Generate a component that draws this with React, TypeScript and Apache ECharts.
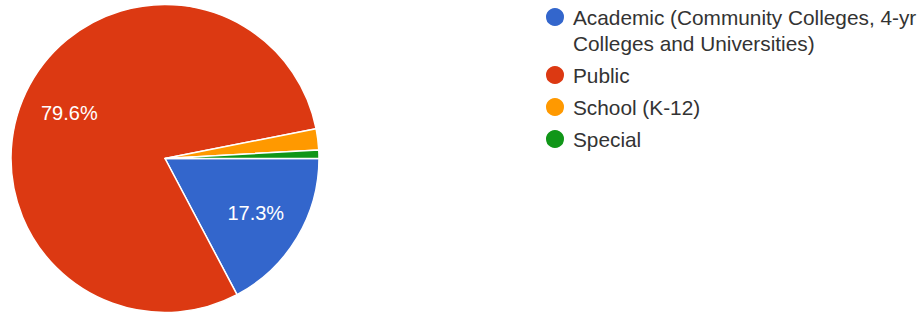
import React, { useEffect, useRef } from "react";
import * as echarts from "echarts";

const categories = [
  "Academic (Community Colleges, 4-yr Colleges and Universities)",
  "Public",
  "School (K-12)",
  "Special",
];
const counts = [39, 180, 5, 2];
const colors = ["#3366CC", "#DC3912", "#FF9900", "#109618"];

export default function App() {
  const ref = useRef<HTMLDivElement>(null);
  useEffect(() => {
    if (!ref.current) return;
    const chart = echarts.init(ref.current, undefined, { renderer: "svg" });
    const total = counts.reduce((a, b) => a + b, 0);
    const data = categories.map((name, i) => ({
      name,
      value: counts[i],
      itemStyle: { color: colors[i] },
    }));
    chart.setOption({
      animation: false,
      legend: {
        orient: "vertical",
        left: 544,
        top: -22,
        padding: 0,
        icon: "circle",
        itemWidth: 26,
        itemHeight: 20,
        itemGap: 6,
        selectedMode: false,
        formatter: (name: string) => (name === categories[0] ? "\n" + name : name),
        textStyle: {
          fontFamily: "Arial, 'Liberation Sans', sans-serif",
          fontSize: 20.8,
          color: "#333333",
          lineHeight: 26,
          width: 365,
          overflow: "break",
        },
        data: categories,
      },
      series: [
        {
          type: "pie",
          center: [165, 158.5],
          radius: [0, 154],
          startAngle: 0,
          clockwise: true,
          silent: true,
          label: { show: false },
          labelLine: { show: false },
          itemStyle: { borderColor: "#ffffff", borderWidth: 1.5 },
          data,
        },
        {
          type: "pie",
          center: [165, 158.5],
          radius: [52, 154],
          startAngle: 0,
          clockwise: true,
          silent: true,
          legendHoverLink: false,
          itemStyle: { color: "transparent", borderWidth: 0 },
          labelLine: { show: false },
          label: {
            show: true,
            position: "inside",
            color: "#ffffff",
            fontFamily: "Arial, 'Liberation Sans', sans-serif",
            fontSize: 20,
            formatter: (p: any) =>
              p.value / total >= 0.05 ? ((p.value / total) * 100).toFixed(1) + "%" : "",
          },
          data: categories.map((name, i) => ({ name: name + " ", value: counts[i] })),
        },
      ],
    });
    return () => chart.dispose();
  }, []);
  return (
    <div
      ref={ref}
      style={{ position: "fixed", left: 0, top: 0, width: 921, height: 314, background: "#fff" }}
    />
  );
}
